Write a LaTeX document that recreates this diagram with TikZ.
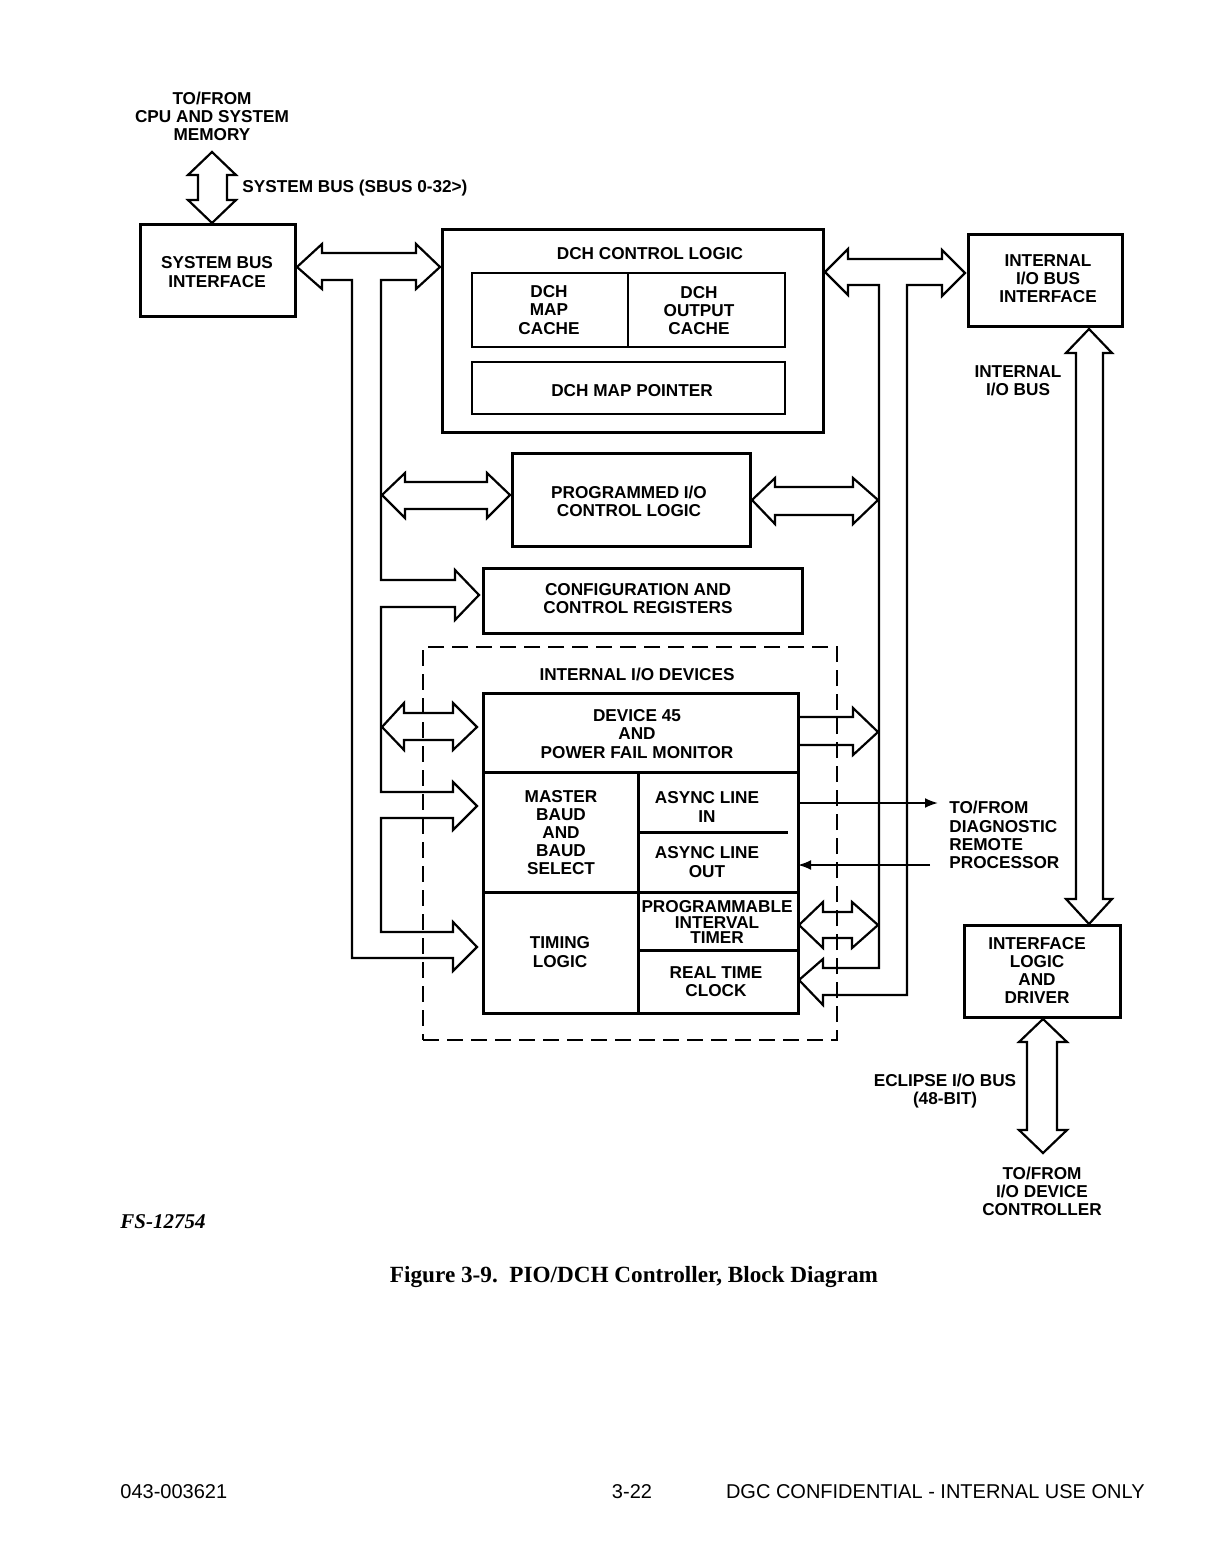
\documentclass[tikz,border=0pt]{standalone}
\usepackage{fontspec}
\setmainfont{Liberation Sans}
\newfontfamily\capserif{Liberation Serif}
\usetikzlibrary{fit,arrows.meta}
\newcommand\lbf{\fontsize{8.6}{9.1}\selectfont\bfseries}
\begin{document}
\begin{tikzpicture}[x=0.5pt,y=-0.5pt,
  box/.style={draw,line width=1.5pt,inner sep=0pt,outer sep=0pt},
  sub/.style={draw,line width=1.3pt,inner sep=0pt,outer sep=0pt},
  lbl/.style={font=\lbf,align=center,inner sep=0pt},
  bus/.style={draw,line width=1.1pt,line join=miter},
  dashbox/.style={draw,line width=1pt,dash pattern=on 8pt off 4pt},
  sigarrow/.style={line width=1pt,-{Latex[length=6.5pt,width=5pt]}}]
\useasboundingbox (0,0) rectangle (1210,1567);

% ---------- boxes ----------
\node[box,fit={(140,225) (295,317)}] (sbi) {};
\node[box,fit={(442,230) (823,432)}] (dchc) {};
\node[sub,fit={(472,273) (628,347)}] (mapc) {};
\node[sub,fit={(628,273) (785,347)}] (outc) {};
\node[sub,fit={(472,362) (785,414)}] (mapp) {};
\node[box,fit={(512,453) (750,546)}] (pio) {};
\node[box,fit={(483,568) (802,633)}] (cfg) {};
\node[box,fit={(483,693) (798,1013)}] (grp) {};
\node[box,fit={(483,693) (798,772)}] (dev) {};
\node[box,fit={(483,772) (638,892)}] (mbd) {};
\node[box,fit={(483,892) (638,1013)}] (tim) {};
\node[box,fit={(638,772) (798,892)}] (asy) {};
\node[box,fit={(638,892) (798,950)}] (pit) {};
\node[box,fit={(638,950) (798,1013)}] (rtc) {};
\coordinate (asyl) at (638,832);
\coordinate (asyr) at (788,832);
\draw[line width=1.5pt] (asyl) -- (asyr);
\node[box,fit={(968,235) (1122,327)}] (iib) {};
\node[box,fit={(964,925) (1120,1017)}] (ild) {};
\node[dashbox,inner sep=0pt,fit={(423,647) (837,1040)}] (iod) {};

% ---------- texts ----------
\node[lbl] (tcpu) at (212,116.5) {TO/FROM\\CPU AND SYSTEM\\MEMORY};
\node[lbl,anchor=west] (tsbus) at (242,188) {SYSTEM BUS (SBUS 0-32>)};
\node[lbl] (tsbi) at (217,272) {SYSTEM BUS\\INTERFACE};
\node[lbl] (tdchc) at (650,254) {DCH CONTROL LOGIC};
\node[lbl] (tmapc) at (549,310) {DCH\\MAP\\CACHE};
\node[lbl] (toutc) at (699,310.5) {DCH\\OUTPUT\\CACHE};
\node[lbl] (tmapp) at (632,391) {DCH MAP POINTER};
\node[lbl] (tpio) at (629,501) {PROGRAMMED I/O\\CONTROL LOGIC};
\node[lbl] (tcfg) at (638,598.5) {CONFIGURATION AND\\CONTROL REGISTERS};
\node[lbl] (tiod) at (637,674) {INTERNAL I/O DEVICES};
\node[lbl] (tdev) at (637,734) {DEVICE 45\\AND\\POWER FAIL MONITOR};
\node[lbl] (tmbd) at (561,832.5) {MASTER\\BAUD\\AND\\BAUD\\SELECT};
\node[lbl] (tain) at (707,807) {ASYNC LINE\\IN};
\node[lbl] (taout) at (707,862) {ASYNC LINE\\OUT};
\node[lbl,font=\fontsize{8.6}{7.6}\selectfont\bfseries] (tpit) at (717,922) {PROGRAMMABLE\\INTERVAL\\TIMER};
\node[lbl] (trtc) at (716,982) {REAL TIME\\CLOCK};
\node[lbl] (ttim) at (560,952) {TIMING\\LOGIC};
\node[lbl] (tiib) at (1048,278.5) {INTERNAL\\I/O BUS\\INTERFACE};
\node[lbl] (tiibus) at (1018,381) {INTERNAL\\I/O BUS};
\node[lbl,anchor=west,align=left] (tdiag) at (949,835) {TO/FROM\\DIAGNOSTIC\\REMOTE\\PROCESSOR};
\node[lbl] (tild) at (1037,970.5) {INTERFACE\\LOGIC\\AND\\DRIVER};
\node[lbl] (tecl) at (945,1091) {ECLIPSE I/O BUS\\(48-BIT)};
\node[lbl] (tiodc) at (1042,1191.5) {TO/FROM\\I/O DEVICE\\CONTROLLER};

\node[inner sep=0pt,anchor=west,font=\capserif\fontsize{10.5}{12}\selectfont\bfseries\itshape] (fs) at (120,1222) {FS-12754};
\node[inner sep=0pt,font=\capserif\fontsize{11.6}{13}\selectfont\bfseries] (cap) at (634,1277) {Figure 3-9.\ \ PIO/DCH Controller, Block Diagram};
\node[inner sep=0pt,anchor=west,font=\fontsize{10}{12}\selectfont] (f1) at (120,1492) {043-003621};
\node[inner sep=0pt,font=\fontsize{10}{12}\selectfont] (f2) at (632,1492) {3-22};
\node[inner sep=0pt,anchor=east,font=\fontsize{10}{12}\selectfont] (f3) at (1145,1492) {DGC CONFIDENTIAL - INTERNAL USE ONLY};

% ---------- bus arrows ----------
% system bus (vertical)
\draw[bus] (212,152) -- (236,175) -- (227,175) -- (227,200) -- (236,200) -- (212,223)
  -- (188,200) -- (198,200) -- (198,175) -- (188,175) -- cycle;
% left internal bus
\draw[bus] (297,267) -- (322,244) -- (322,253) -- (416,253) -- (416,244) -- (440,267)
  -- (416,289) -- (416,280) -- (381,280) -- (381,580) -- (455,580) -- (455,570)
  -- (479,595) -- (455,620) -- (455,607) -- (381,607) -- (381,792) -- (453,792)
  -- (453,782) -- (477,806) -- (453,830) -- (453,818) -- (381,818) -- (381,932)
  -- (453,932) -- (453,922) -- (477,947) -- (453,971) -- (453,958) -- (352,958)
  -- (352,280) -- (322,280) -- (322,289) -- cycle;
% PIO left
\draw[bus] (382,495) -- (405,473) -- (405,482) -- (487,482) -- (487,473) -- (510,495)
  -- (487,518) -- (487,509) -- (405,509) -- (405,518) -- cycle;
% Device 45 left
\draw[bus] (382,727) -- (404,703) -- (404,713) -- (453,713) -- (453,703) -- (477,727)
  -- (453,750) -- (453,740) -- (404,740) -- (404,750) -- cycle;
% right internal bus
\draw[bus] (825,272) -- (848,249) -- (848,259) -- (942,259) -- (942,250) -- (965,273)
  -- (942,296) -- (942,285) -- (907,285) -- (907,995) -- (823,995) -- (823,1005)
  -- (799,980) -- (823,959) -- (823,968) -- (879,968) -- (879,285) -- (848,285)
  -- (848,295) -- cycle;
% PIO right
\draw[bus] (752,500) -- (775,478) -- (775,487) -- (853,487) -- (853,478) -- (878,500)
  -- (853,524) -- (853,515) -- (775,515) -- (775,524) -- cycle;
% Device 45 right (single head)
\draw[bus] (798,717) -- (853,717) -- (853,708) -- (878,732) -- (853,755) -- (853,745) -- (798,745);
% PIT double
\draw[bus] (799,925) -- (823,902) -- (823,912) -- (852,912) -- (852,902) -- (878,925)
  -- (852,948) -- (852,938) -- (823,938) -- (823,948) -- cycle;
% internal I/O bus (vertical)
\draw[bus] (1089,329) -- (1112,353) -- (1103,353) -- (1103,899) -- (1112,899) -- (1089,924)
  -- (1066,899) -- (1076,899) -- (1076,353) -- (1066,353) -- cycle;
% eclipse I/O bus (vertical)
\draw[bus] (1043,1019) -- (1067,1042) -- (1057,1042) -- (1057,1130) -- (1067,1130) -- (1043,1153)
  -- (1019,1130) -- (1027,1130) -- (1027,1042) -- (1019,1042) -- cycle;

% ---------- diagnostic signal lines ----------
\coordinate (din) at (938,803);
\coordinate (dout) at (930,865);
\draw[sigarrow] (grp.east |- din) -- (din);
\draw[sigarrow] (dout) -- (grp.east |- dout);
\end{tikzpicture}
\end{document}
